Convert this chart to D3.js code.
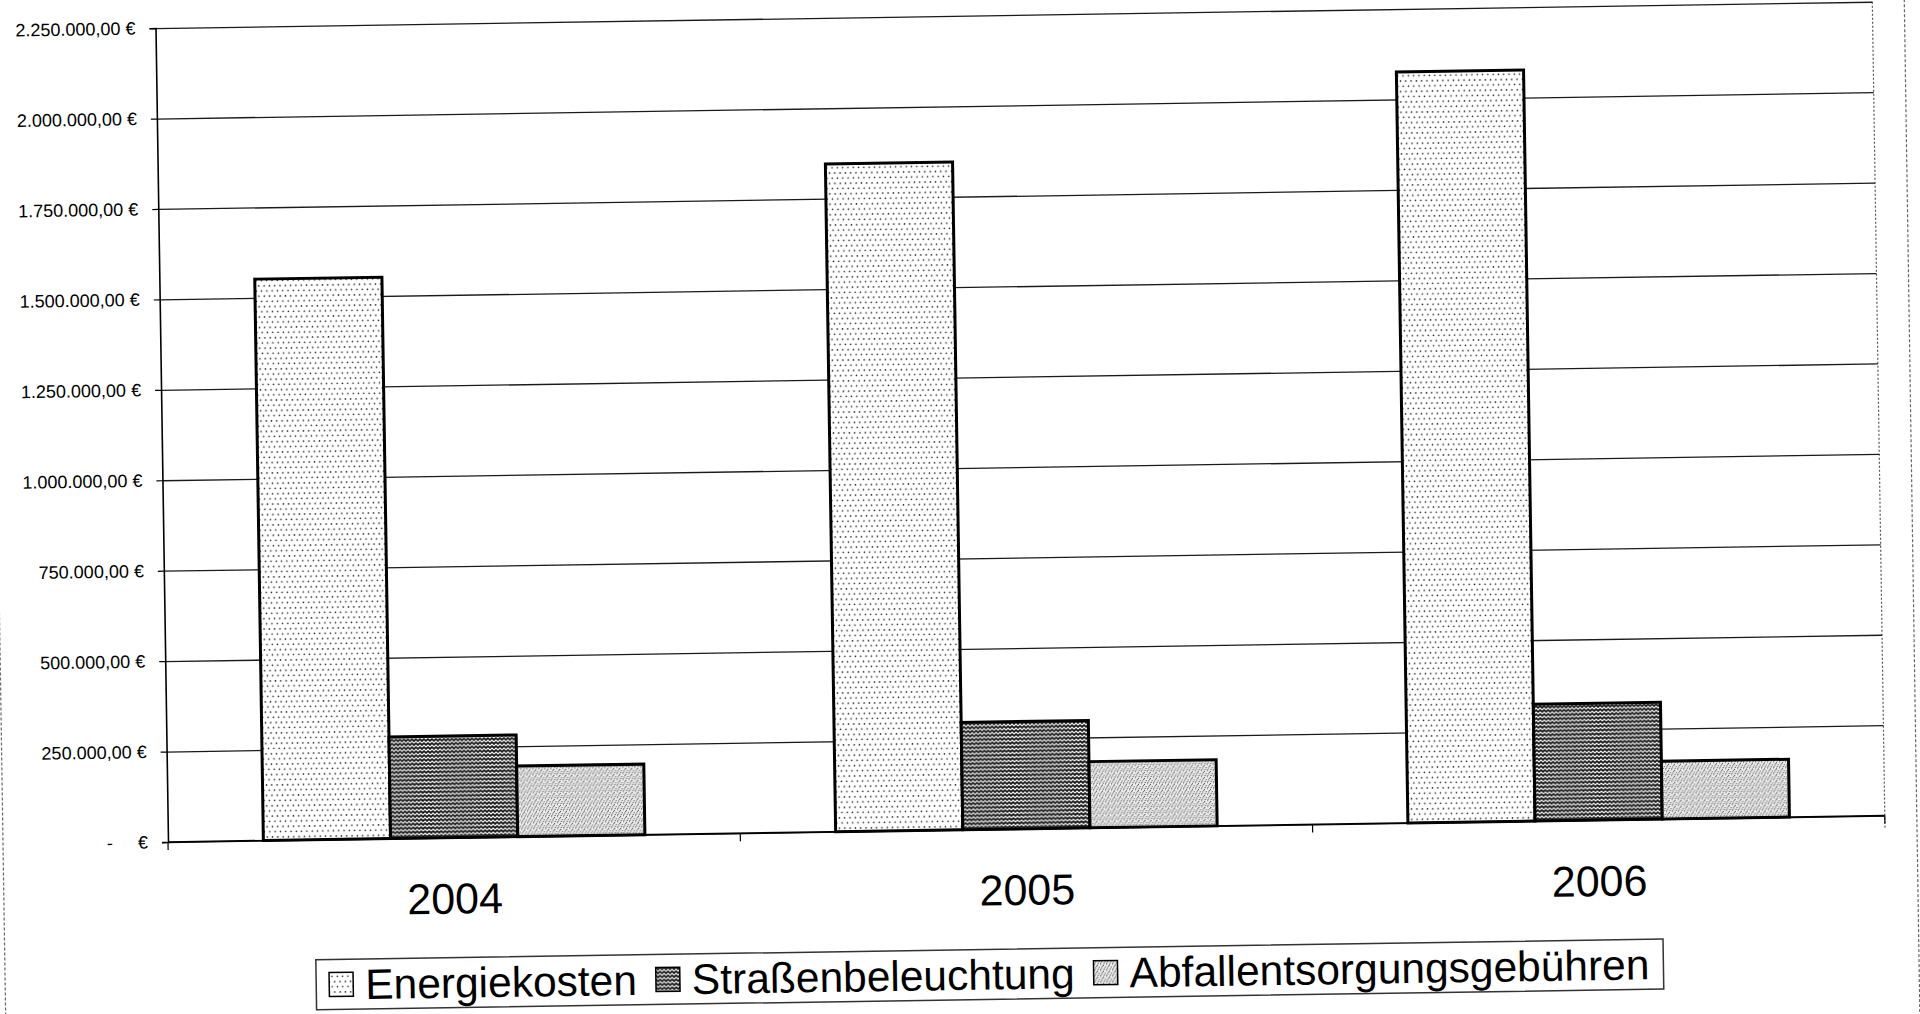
<!DOCTYPE html>
<html><head><meta charset="utf-8">
<script src="https://cdn.jsdelivr.net/npm/d3@7"></script>
<style>
html,body{margin:0;padding:0;background:#fff;overflow:hidden}
svg{display:block}
text{font-family:"Liberation Sans",Arial,sans-serif;fill:#000}
</style></head>
<body><svg id="c" width="1920" height="1014"></svg>
<script>
// ---- data ----
const categories = ["2004", "2005", "2006"];
const seriesNames = ["Energiekosten", "Straßenbeleuchtung", "Abfallentsorgungsgebühren"];
const energiekosten = [1552000, 1846000, 2076000];
const strassenbeleuchtung = [281000, 297000, 323000];
const abfallentsorgung = [195000, 183000, 160000];
const yTickValues = [0, 250000, 500000, 750000, 1000000, 1250000, 1500000, 1750000, 2000000, 2250000];
const zeroLabel = "-     €";

const seriesValues = [energiekosten, strassenbeleuchtung, abfallentsorgung];
const patternIds = ["pEnergie", "pWeave", "pStipple"];

// ---- layout ----
const W = 1920, H = 1014;
const plotLeft = 168, plotRight = 1885, plotTop = 28, plotBottom = 842;
const tilt = -0.88;

const svg = d3.select("#c");
const defs = svg.append("defs");

// Energiekosten: sparse dots
const p1 = defs.append("pattern").attr("id", "pEnergie").attr("patternUnits", "userSpaceOnUse")
  .attr("width", 5.3).attr("height", 10.4);
p1.append("rect").attr("width", 5.3).attr("height", 10.4).attr("fill", "#fff");
p1.append("circle").attr("cx", 1.3).attr("cy", 1.3).attr("r", 0.8).attr("fill", "#222");
p1.append("circle").attr("cx", 3.95).attr("cy", 6.5).attr("r", 0.8).attr("fill", "#222");

// Straßenbeleuchtung: dark weave
const p2 = defs.append("pattern").attr("id", "pWeave").attr("patternUnits", "userSpaceOnUse")
  .attr("width", 8).attr("height", 8);
p2.append("rect").attr("width", 8).attr("height", 8).attr("fill", "#151515");
p2.append("path").attr("d", "M0,3 L2,1 L4,3 L6,1 L8,3 M0,7 L2,5 L4,7 L6,5 L8,7")
  .attr("fill", "none").attr("stroke", "#fff").attr("stroke-width", 1.1);

// Abfall: fine stipple
const p3 = defs.append("pattern").attr("id", "pStipple").attr("patternUnits", "userSpaceOnUse")
  .attr("width", 6).attr("height", 6);
p3.append("rect").attr("width", 6).attr("height", 6).attr("fill", "#eeeeee");
[[0.6,0.7],[3.4,1.4],[5.2,3.6],[1.8,3.9],[4.2,5.4],[0.9,5.6],[2.7,2.5]].forEach(d =>
  p3.append("circle").attr("cx", d[0]).attr("cy", d[1]).attr("r", 0.55).attr("fill", "#3a3a3a"));

svg.append("rect").attr("width", W).attr("height", H).attr("fill", "#fff");

const g = svg.append("g").attr("transform", `rotate(${tilt},${plotLeft},${plotBottom})`);

// outer chart border (dashed, scan look)
g.append("rect").attr("x", 3).attr("y", -60).attr("width", 1914).attr("height", 1120)
  .attr("fill", "none").attr("stroke", "#666").attr("stroke-width", 1.2).attr("stroke-dasharray", "3,2");

// ---- scales ----
const y = d3.scaleLinear().domain([0, 2250000]).range([plotBottom, plotTop]);
const x = d3.scaleBand().domain(categories).range([plotLeft, plotRight]).paddingInner(1/3).paddingOuter(1/6);
const xs = d3.scaleBand().domain(seriesNames).range([0, x.bandwidth()]);

// plot area right border (dotted)
g.append("line").attr("x1", plotRight).attr("x2", plotRight).attr("y1", -40).attr("y2", plotBottom + 12)
  .attr("stroke", "#555").attr("stroke-width", 1.2).attr("stroke-dasharray", "2,2");

// gridlines
const grid = g.append("g").attr("transform", `translate(${plotLeft},0)`)
  .call(d3.axisLeft(y).tickValues(yTickValues).tickSize(-(plotRight - plotLeft)).tickFormat(""));
grid.select(".domain").remove();
grid.selectAll("line").attr("stroke", "#1a1a1a").attr("stroke-width", 1.3);

// y axis
const loc = d3.formatLocale({decimal: ",", thousands: ".", grouping: [3], currency: ["", " €"]});
const fmt = loc.format("$,.2f");
const yAx = g.append("g").attr("transform", `translate(${plotLeft},0)`)
  .call(d3.axisLeft(y).tickValues(yTickValues).tickSize(6).tickPadding(14)
    .tickFormat(v => v === 0 ? zeroLabel : fmt(v)));
yAx.select(".domain").attr("stroke", "#000").attr("stroke-width", 1.6);
yAx.selectAll("line").attr("stroke", "#000").attr("stroke-width", 1.2);
yAx.selectAll("text").attr("font-size", 18).attr("font-family", '"Liberation Sans",Arial,sans-serif')
  .style("white-space", "pre").attr("fill", "#000");

// bars
const groups = g.selectAll("g.cat").data(categories).join("g").attr("class", "cat")
  .attr("transform", c => `translate(${x(c)},0)`);
groups.selectAll("rect").data((c, i) => seriesNames.map((s, j) => ({s, j, v: seriesValues[j][i]})))
  .join("rect")
  .attr("x", d => xs(d.s)).attr("width", xs.bandwidth())
  .attr("y", d => y(d.v)).attr("height", d => y(0) - y(d.v))
  .attr("fill", d => `url(#${patternIds[d.j]})`)
  .attr("stroke", "#000").attr("stroke-width", 3);

// x axis line + boundary ticks
g.append("line").attr("x1", plotLeft).attr("x2", plotRight).attr("y1", y(0)).attr("y2", y(0))
  .attr("stroke", "#000").attr("stroke-width", 1.6);
const gap = (x.step() - x.bandwidth()) / 2;
const bounds = categories.map(c => x(c) - gap).concat([x(categories[categories.length - 1]) + x.bandwidth() + gap]);
g.selectAll("line.xt").data(bounds).join("line").attr("class", "xt")
  .attr("x1", d => d).attr("x2", d => d).attr("y1", y(0)).attr("y2", y(0) + 8)
  .attr("stroke", "#000").attr("stroke-width", 1.2);

// category labels
g.selectAll("text.catlab").data(categories).join("text").attr("class", "catlab")
  .attr("x", c => x(c) + x.bandwidth() / 2).attr("y", 918)
  .attr("text-anchor", "middle").attr("font-size", 43).text(c => c);

// legend
const lg = g.append("g");
const legBox = lg.append("rect").attr("x", 314).attr("y", 962).attr("height", 50)
  .attr("fill", "#fff").attr("stroke", "#333").attr("stroke-width", 1.5);
let lx = 327;
seriesNames.forEach((s, j) => {
  lg.append("rect").attr("x", lx).attr("y", 975).attr("width", 24).attr("height", 24)
    .attr("fill", `url(#${patternIds[j]})`).attr("stroke", "#000").attr("stroke-width", 1.5);
  const t = lg.append("text").attr("x", lx + 36).attr("y", 1002).attr("font-size", 42.5).text(s);
  const w = t.node().getComputedTextLength();
  lx = lx + 36 + w + (j < seriesNames.length - 1 ? 19 : 14);
});
legBox.attr("width", lx - 314);
</script></body></html>
